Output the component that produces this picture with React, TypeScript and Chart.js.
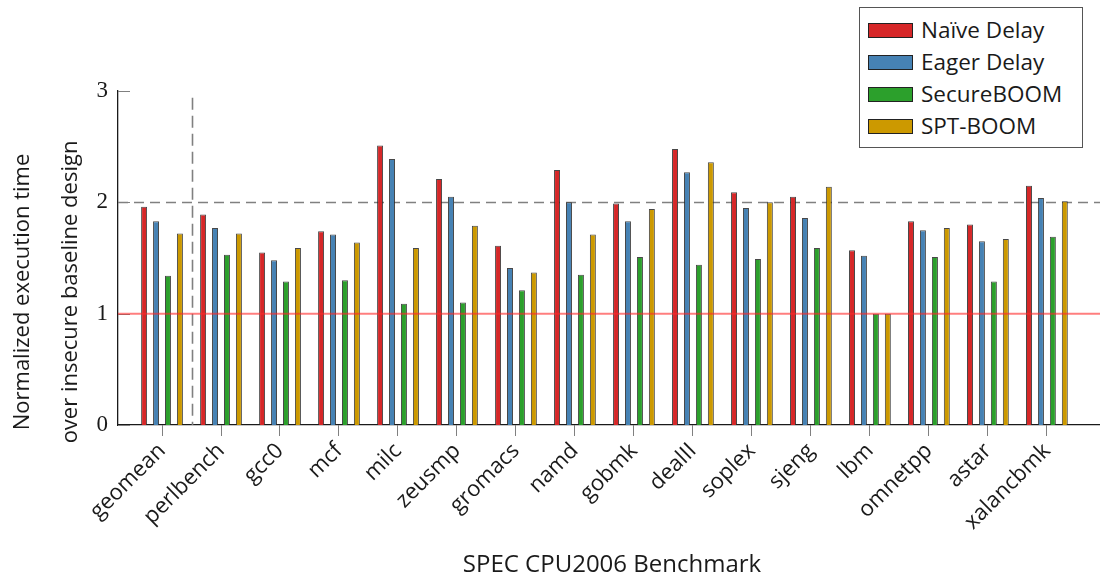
import React, { useEffect, useRef } from "react";
import { Chart, registerables } from "chart.js";

Chart.register(...registerables);

const categories = [
  "geomean", "perlbench", "gcc0", "mcf", "milc", "zeusmp", "gromacs", "namd",
  "gobmk", "dealII", "soplex", "sjeng", "lbm", "omnetpp", "astar", "xalancbmk",
];
const naiveDelay = [1.96, 1.89, 1.55, 1.74, 2.51, 2.21, 1.61, 2.29, 1.99, 2.48, 2.09, 2.05, 1.57, 1.83, 1.80, 2.15];
const eagerDelay = [1.83, 1.77, 1.48, 1.71, 2.39, 2.05, 1.41, 2.00, 1.83, 2.27, 1.95, 1.86, 1.52, 1.75, 1.65, 2.04];
const secureBoom = [1.34, 1.53, 1.29, 1.30, 1.09, 1.10, 1.21, 1.35, 1.51, 1.44, 1.49, 1.59, 1.00, 1.51, 1.29, 1.69];
const sptBoom = [1.72, 1.72, 1.59, 1.64, 1.59, 1.79, 1.37, 1.71, 1.94, 2.36, 2.00, 2.14, 1.00, 1.77, 1.67, 2.01];
const seriesNames = ["Naïve Delay", "Eager Delay", "SecureBOOM", "SPT-BOOM"];
const seriesColors = ["#d62728", "#4682b4", "#2ca02c", "#cc9900"];
const yTicks = [0, 1, 2, 3];

const SANS = "'Open Sans', 'Noto Sans', sans-serif";
const SERIF = "'Liberation Serif', 'DejaVu Serif', serif";

const overlayPlugin = {
  id: "overlay",
  beforeDatasetsDraw(chart: any) {
    const { ctx, chartArea, scales } = chart;
    const x = scales.x;
    const y = scales.y;
    ctx.save();
    ctx.strokeStyle = "#808080";
    ctx.lineWidth = 1;
    yTicks.forEach((v) => {
      const py = Math.round(y.getPixelForValue(v)) + 0.5;
      ctx.beginPath();
      ctx.moveTo(chartArea.left, py);
      ctx.lineTo(chartArea.left + 12, py);
      ctx.stroke();
    });
    ctx.setLineDash([10, 6]);
    ctx.lineWidth = 1.3;
    const p2 = Math.round(y.getPixelForValue(2)) + 0.5;
    ctx.beginPath();
    ctx.moveTo(chartArea.left, p2);
    ctx.lineTo(chartArea.right, p2);
    ctx.stroke();
    const sx = Math.round(x.getPixelForValue(0.5)) + 0.5;
    ctx.lineWidth = 1.6;
    ctx.setLineDash([12, 6]);
    ctx.beginPath();
    ctx.moveTo(sx, y.getPixelForValue(2.94));
    ctx.lineTo(sx, chartArea.bottom);
    ctx.stroke();
    ctx.restore();
  },
  afterDatasetsDraw(chart: any) {
    const { ctx, chartArea, scales } = chart;
    const y = scales.y;
    ctx.save();
    ctx.strokeStyle = "rgba(255, 40, 40, 0.6)";
    ctx.lineWidth = 2;
    const p1 = y.getPixelForValue(1);
    ctx.beginPath();
    ctx.moveTo(chartArea.left, p1);
    ctx.lineTo(chartArea.right, p1);
    ctx.stroke();
    ctx.restore();
  },
  afterDraw(chart: any) {
    const { ctx, chartArea } = chart;
    ctx.save();
    ctx.fillStyle = "#1a1a1a";
    ctx.textAlign = "center";
    ctx.textBaseline = "alphabetic";
    ctx.font = `24px ${SANS}`;
    ctx.fillText("SPEC CPU2006 Benchmark", (chartArea.left + chartArea.right) / 2 + 3, 572);
    ctx.font = `22px ${SANS}`;
    ctx.translate(0, 292);
    ctx.rotate(-Math.PI / 2);
    ctx.fillText("Normalized execution time", 0, 29);
    ctx.fillText("over insecure baseline design", 0, 77);
    ctx.restore();
  },
};

export default function App() {
  const ref = useRef<HTMLCanvasElement | null>(null);

  useEffect(() => {
    if (!ref.current) return;
    const allSeries = [naiveDelay, eagerDelay, secureBoom, sptBoom];
    const chart = new Chart(ref.current, {
      type: "bar",
      data: {
        datasets: allSeries.map((vals, s) => ({
          label: seriesNames[s],
          data: vals.map((v, i) => ({ x: i, y: v })),
          backgroundColor: seriesColors[s],
          borderColor: "rgba(40,40,40,0.85)",
          borderWidth: 1,
          categoryPercentage: 0.81,
          barPercentage: 0.5,
        })),
      },
      options: {
        animation: false,
        responsive: false,
        devicePixelRatio: 1,
        layout: { padding: { top: 91, left: 0, right: 0, bottom: 0 } },
        plugins: { legend: { display: false }, tooltip: { enabled: false } },
        scales: {
          x: {
            type: "linear",
            offset: false,
            min: -0.746,
            max: 15.9,
            afterFit: (scale: any) => {
              scale.height = 154;
            },
            afterBuildTicks: (scale: any) => {
              scale.ticks = categories.map((_, i) => ({ value: i }));
            },
            ticks: {
              autoSkip: false,
              maxRotation: 45,
              minRotation: 45,
              padding: 2,
              color: "#1a1a1a",
              font: { family: SANS, size: 22 },
              callback: (v: any) => categories[Math.round(Number(v))] ?? "",
            },
            grid: {
              offset: false,
              drawOnChartArea: false,
              drawTicks: true,
              tickLength: 11,
              color: "#808080",
            },
            border: { display: true, color: "#1a1a1a", width: 1.3 },
          },
          y: {
            min: 0,
            max: 3,
            afterFit: (scale: any) => {
              scale.width = 118;
            },
            ticks: {
              stepSize: 1,
              padding: 10,
              color: "#1a1a1a",
              font: { family: SERIF, size: 23 },
            },
            grid: { display: false, drawTicks: false },
            border: { display: true, color: "#1a1a1a", width: 1.3 },
          },
        },
      },
      plugins: [overlayPlugin],
    });
    return () => chart.destroy();
  }, []);

  return (
    <div style={{ position: "absolute", left: 0, top: 0, width: 1100, height: 579, background: "#fff" }}>
      <canvas ref={ref} width={1100} height={579} style={{ display: "block" }} />
      <div
        style={{
          position: "absolute",
          left: 859,
          top: 7,
          width: 224,
          height: 141,
          border: "1px solid #555",
          background: "#fff",
          boxSizing: "border-box",
        }}
      >
        {seriesNames.map((name, i) => (
          <div
            key={name}
            style={{
              position: "absolute",
              left: 8,
              top: 14 + i * 32,
              height: 16,
              display: "flex",
              alignItems: "center",
              whiteSpace: "nowrap",
            }}
          >
            <span
              style={{
                display: "inline-block",
                width: 45,
                height: 15,
                background: seriesColors[i],
                border: "1px solid #222",
                boxSizing: "border-box",
              }}
            />
            <span style={{ marginLeft: 8, fontFamily: SANS, fontSize: 22.5, color: "#1a1a1a", lineHeight: "16px" }}>{name}</span>
          </div>
        ))}
      </div>
    </div>
  );
}
